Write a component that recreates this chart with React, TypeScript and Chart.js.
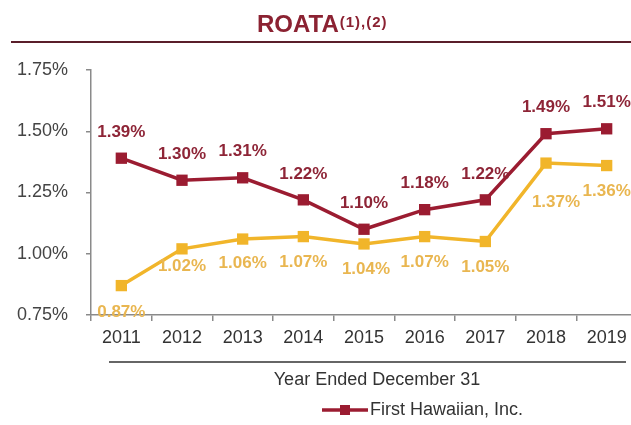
import React, { useEffect, useRef } from 'react';
import { Chart, registerables } from 'chart.js';

Chart.register(...registerables);

const years = ['2011', '2012', '2013', '2014', '2015', '2016', '2017', '2018', '2019'];
const fhiRoata = [1.39, 1.3, 1.31, 1.22, 1.1, 1.18, 1.22, 1.49, 1.51];
const peerRoata = [0.87, 1.02, 1.06, 1.07, 1.04, 1.07, 1.05, 1.37, 1.36];
const yMin = 0.75;
const yMax = 1.75;
const yStep = 0.25;
const titleMain = 'ROATA';
const titleSup = '(1),(2)';
const axisTitle = 'Year Ended December 31';
const legendLabel = 'First Hawaiian, Inc.';

// label nudges (px) for the gold series (below points)
const peerLabelDy = [27, 17, 24, 26, 25, 26, 26, 39, 26];
const peerLabelDx = [0, 0, 0, 0, 2, 0, 0, 10, 0];

const FONT = "'Liberation Sans', Arial, sans-serif";
const RED = '#9B1C31';
const RED_TEXT = '#8E2537';
const GOLD = '#F1B52A';
const GOLD_TEXT = '#E9B650';
const AXIS = '#8a8a8a';

const fmt = (v: number) => v.toFixed(2) + '%';

const decorPlugin = {
  id: 'decor',
  afterDraw(chart: any) {
    const ctx = chart.ctx as any;
    ctx.save();
    // Title
    ctx.fillStyle = '#8B2232';
    ctx.textBaseline = 'alphabetic';
    ctx.textAlign = 'left';
    ctx.font = `bold 24px ${FONT}`;
    const wMain = ctx.measureText(titleMain).width;
    const start = 257;
    ctx.fillText(titleMain, start, 32);
    ctx.font = `bold 15px ${FONT}`;
    ctx.letterSpacing = '1px';
    ctx.fillText(titleSup, start + wMain + 1, 27);
    ctx.letterSpacing = '0px';
    // Title rule
    ctx.strokeStyle = '#5a1e2a';
    ctx.lineWidth = 2;
    ctx.beginPath();
    ctx.moveTo(11, 42);
    ctx.lineTo(631, 42);
    ctx.stroke();
    // Axis group rule
    ctx.strokeStyle = '#333';
    ctx.lineWidth = 1.6;
    ctx.beginPath();
    ctx.moveTo(109, 362);
    ctx.lineTo(626, 362);
    ctx.stroke();
    // Axis title
    ctx.fillStyle = '#333';
    ctx.font = `18px ${FONT}`;
    ctx.textAlign = 'center';
    ctx.textBaseline = 'middle';
    ctx.fillText(axisTitle, 377, 380);
    // Legend
    ctx.strokeStyle = RED;
    ctx.lineWidth = 3.5;
    ctx.beginPath();
    ctx.moveTo(322, 410);
    ctx.lineTo(368, 410);
    ctx.stroke();
    ctx.fillStyle = RED;
    ctx.fillRect(340, 405, 10, 10);
    ctx.fillStyle = '#333';
    ctx.textAlign = 'left';
    ctx.fillText(legendLabel, 370, 410);
    ctx.restore();
  },
  afterDatasetsDraw(chart: any) {
    const ctx = chart.ctx as CanvasRenderingContext2D;
    ctx.save();
    ctx.font = `bold 17px ${FONT}`;
    ctx.textAlign = 'center';
    ctx.textBaseline = 'middle';
    chart.data.datasets.forEach((ds: any, i: number) => {
      const meta = chart.getDatasetMeta(i);
      meta.data.forEach((pt: any, j: number) => {
        const v = ds.data[j] as number;
        if (i === 0) {
          ctx.fillStyle = RED_TEXT;
          ctx.fillText(fmt(v), pt.x, pt.y - 26);
        } else {
          ctx.fillStyle = GOLD_TEXT;
          ctx.fillText(fmt(v), pt.x + peerLabelDx[j], pt.y + peerLabelDy[j]);
        }
      });
    });
    ctx.restore();
  },
};

export default function App() {
  const ref = useRef<HTMLCanvasElement | null>(null);
  useEffect(() => {
    if (!ref.current) return;
    const chart = new Chart(ref.current, {
      type: 'line',
      data: {
        labels: years,
        datasets: [
          {
            label: legendLabel,
            data: fhiRoata,
            borderColor: RED,
            backgroundColor: RED,
            borderWidth: 3.5,
            pointStyle: 'rect',
            pointRadius: 8,
            pointBorderWidth: 0,
            tension: 0,
          },
          {
            label: 'Peer',
            data: peerRoata,
            borderColor: GOLD,
            backgroundColor: GOLD,
            borderWidth: 3.5,
            pointStyle: 'rect',
            pointRadius: 8,
            pointBorderWidth: 0,
            tension: 0,
          },
        ],
      },
      options: {
        responsive: false,
        animation: false,
        devicePixelRatio: 1,
        layout: { padding: { top: 70, right: 5, left: 0, bottom: 0 } },
        plugins: {
          legend: { display: false },
          tooltip: { enabled: false },
          title: { display: false },
        },
        scales: {
          x: {
            offset: true,
            grid: {
              display: true,
              drawOnChartArea: false,
              drawTicks: true,
              tickLength: 6,
              color: AXIS,
              offset: true,
              lineWidth: 1.5,
            },
            border: { display: true, color: AXIS, width: 1.5 },
            ticks: {
              color: '#333',
              font: { family: FONT, size: 18 },
              padding: 6,
              maxRotation: 0,
              autoSkip: false,
            },
            afterFit: (s: any) => {
              s.height = 110;
            },
          },
          y: {
            min: yMin,
            max: yMax,
            grid: {
              display: true,
              drawOnChartArea: false,
              drawTicks: true,
              tickLength: 5,
              color: AXIS,
              lineWidth: 1.5,
            },
            border: { display: true, color: AXIS, width: 1.5 },
            ticks: {
              stepSize: yStep,
              color: '#444',
              font: { family: FONT, size: 18 },
              padding: 18,
              callback: (v: any) => Number(v).toFixed(2) + '%',
            },
            afterFit: (s: any) => {
              s.width = 91;
            },
          },
        },
      },
      plugins: [decorPlugin],
    });
    return () => chart.destroy();
  }, []);

  return (
    <div
      style={{
        position: 'absolute',
        left: 0,
        top: 0,
        width: 631,
        height: 425,
        overflow: 'hidden',
        background: '#fff',
      }}
    >
      <canvas ref={ref} width={645} height={425} style={{ display: 'block', width: 645, height: 425 }} />
    </div>
  );
}
